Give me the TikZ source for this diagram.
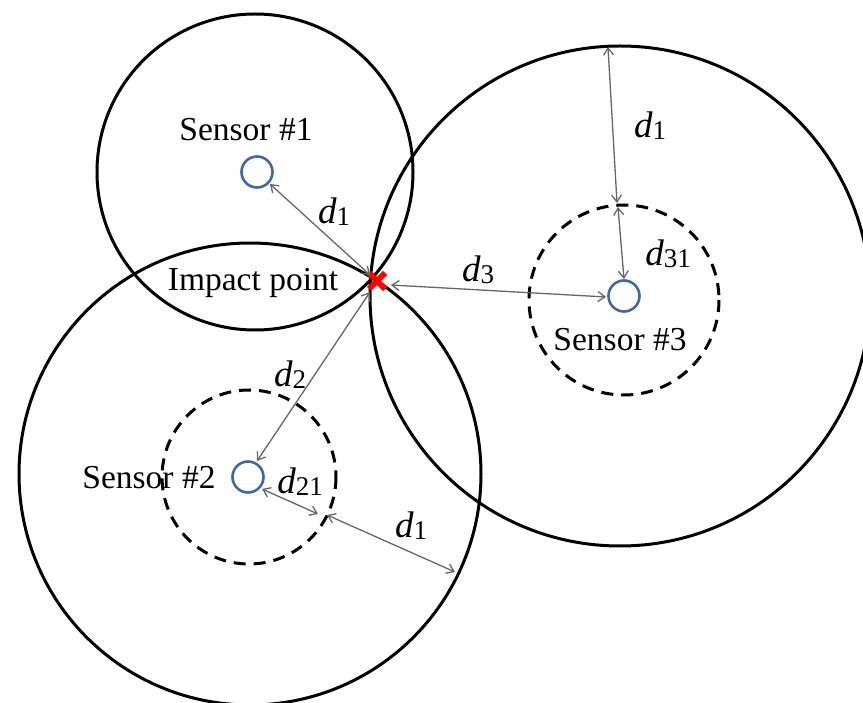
\documentclass[tikz,border=0pt]{standalone}
\usepackage{fontspec}
\setmainfont{Liberation Serif}
\usetikzlibrary{arrows.meta}
\definecolor{sensorblue}{RGB}{65,105,155}
\newcommand{\dlab}[1]{{\fontsize{37}{37}\selectfont\itshape d}\raisebox{-0.22em}{\fontsize{27}{27}\selectfont #1}}
\begin{document}
\begin{tikzpicture}[x=1pt,y=-1pt,
  bigcirc/.style={draw=black,line width=3pt},
  dashcirc/.style={draw=black,line width=3pt,dash pattern=on 12pt off 8pt},
  sensorc/.style={circle,draw=sensorblue,line width=2.6pt,minimum size=31pt,inner sep=0pt},
  dimarrow/.style={draw=black!60,line width=1.3pt,{Straight Barb[length=7pt,width=10pt]}-{Straight Barb[length=7pt,width=10pt]}},
  lab/.style={font=\fontsize{33.5}{36}\selectfont,inner sep=0pt},
  dl/.style={inner sep=0pt}]
\useasboundingbox (0,0) rectangle (863,703);
\begin{scope}
\clip (0,0) rectangle (863,703);
\draw[bigcirc] (255,172) circle (158);
\draw[bigcirc] (250,474) circle (231);
\draw[bigcirc] (620,296) circle (250);
\draw[dashcirc] (624,300) circle (95);
\draw[dashcirc] (249,477) circle (87);
\end{scope}
% sensors
\node[sensorc] (s1) at (257,172) {};
\node[sensorc] (s2) at (248,477) {};
\node[sensorc] (s3) at (624,296) {};
% impact
\coordinate (imp) at (377,281);
\draw[red,line width=6pt] (369,273) -- (385,289) (369,289) -- (385,273);
% labels
\node[lab] (t1) at (246,130) {Sensor \#1};
\node[lab] (t2) at (149,478) {Sensor \#2};
\node[lab] (t3) at (620,340) {Sensor \#3};
\node[lab] (ti) at (253,283) {Impact point};
% arrow endpoints
\coordinate (a1s) at (270,184);
\coordinate (a1e) at (370,275);
\coordinate (a3s) at (391,285);
\coordinate (a3e) at (606,297);
\coordinate (b1s) at (608,47);
\coordinate (b1e) at (617,203);
\coordinate (b2s) at (618,207);
\coordinate (b2e) at (624,279);
\coordinate (c1s) at (370,292);
\coordinate (c1e) at (257,461);
\coordinate (e1s) at (262,489);
\coordinate (e1e) at (318,514);
\coordinate (f1s) at (327,515);
\coordinate (f1e) at (455,572);
\draw[dimarrow] (a1s) -- (a1e);
\draw[dimarrow] (a3s) -- (a3e);
\draw[dimarrow] (b1s) -- (b1e);
\draw[dimarrow] (b2s) -- (b2e);
\draw[dimarrow] (c1s) -- (c1e);
\draw[dimarrow] (e1s) -- (e1e);
\draw[dimarrow] (f1s) -- (f1e);
% d labels
\node[dl] (l1) at (334,212) {\dlab{1}};
\node[dl] (l2) at (650,126) {\dlab{1}};
\node[dl] (l3) at (668,254) {\dlab{31}};
\node[dl] (l4) at (478,270) {\dlab{3}};
\node[dl] (l5) at (290,375) {\dlab{2}};
\node[dl] (l6) at (300,482) {\dlab{21}};
\node[dl] (l7) at (411,526) {\dlab{1}};
\end{tikzpicture}
\end{document}
